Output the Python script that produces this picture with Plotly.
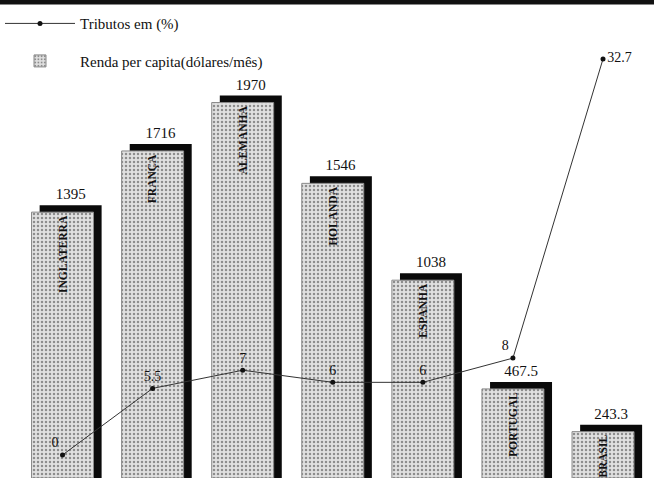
import plotly.graph_objects as go

# Income per capita (USD/month) and tax burden (%) by country
paises = ["INGLATERRA", "FRANÇA", "ALEMANHA", "HOLANDA", "ESPANHA", "PORTUGAL", "BRASIL"]
renda = [1395, 1716, 1970, 1546, 1038, 467.5, 243.3]
tributos = [0, 5.5, 7, 6, 6, 8, 32.7]

SERIF = "Liberation Serif"
W, H = 654, 478

y_max = 2508              # bar axis upper bound
y2_range = [-1.9, 37.57]  # tax axis range
bar_w = 0.688
shadow_dx = 0.09
shadow_dy = 7 * y_max / H   # lift of the drop shadow, ~7px in data units

fig = go.Figure()

# black drop shadow behind each bar, carrying the value label
fig.add_trace(go.Bar(
    x=paises, y=[v + shadow_dy for v in renda],
    width=bar_w, offset=-bar_w / 2 + shadow_dx,
    marker=dict(color="#0a0a0a", line=dict(width=0)),
    text=[f"{v:g}" for v in renda], textposition="outside",
    textfont=dict(family=SERIF, size=15, color="#111"),
    cliponaxis=False, constraintext="none",
    showlegend=False, hoverinfo="skip",
))

# stippled bars with the country name written vertically inside
fig.add_trace(go.Bar(
    x=paises, y=renda, name="Renda per capita(dólares/mês)",
    legendgroup="renda", legendrank=2,
    width=bar_w, offset=-bar_w / 2,
    marker=dict(
        color="#dcdcdc",
        line=dict(color="#8a8a8a", width=1),
        pattern=dict(shape=".", fgcolor="#3a3a3a", bgcolor="#e0e0e0",
                     size=4, solidity=0.3),
    ),
    text=paises, textposition="inside", insidetextanchor="end",
    textangle=-90, constraintext="none",
    insidetextfont=dict(family=SERIF, size=11.5, color="#111", weight="bold"),
))

# tax line
fig.add_trace(go.Scatter(
    x=paises, y=tributos, yaxis="y2", name="Tributos em (%)",
    legendgroup="tributos", legendrank=1,
    mode="lines+markers+text",
    line=dict(color="#333", width=1),
    marker=dict(color="#111", size=5),
    text=[f"{v:g}" for v in tributos],
    textposition=["top left", "top center", "top center", "top center",
                  "top center", "top left", "middle right"],
    textfont=dict(family=SERIF, size=14, color="#111"),
    cliponaxis=False,
))

fig.update_layout(
    width=W, height=H,
    margin=dict(l=0, r=0, t=0, b=0),
    font=dict(family=SERIF, color="#111"),
    paper_bgcolor="white", plot_bgcolor="white",
    barmode="overlay",
    xaxis=dict(range=[-0.694, 6.566], visible=False),
    yaxis=dict(range=[0, y_max], visible=False),
    yaxis2=dict(range=y2_range, overlaying="y", visible=False),
    legend=dict(
        x=0.0, y=0.985, xanchor="left", yanchor="top",
        bgcolor="rgba(0,0,0,0)", font=dict(family=SERIF, size=15, color="#111"),
        itemwidth=70, tracegroupgap=15, traceorder="grouped",
    ),
    shapes=[dict(type="line", xref="paper", yref="paper", x0=0, x1=1, y0=1, y1=1,
                 line=dict(color="#111", width=9))],
)

fig.write_html("out.html")
